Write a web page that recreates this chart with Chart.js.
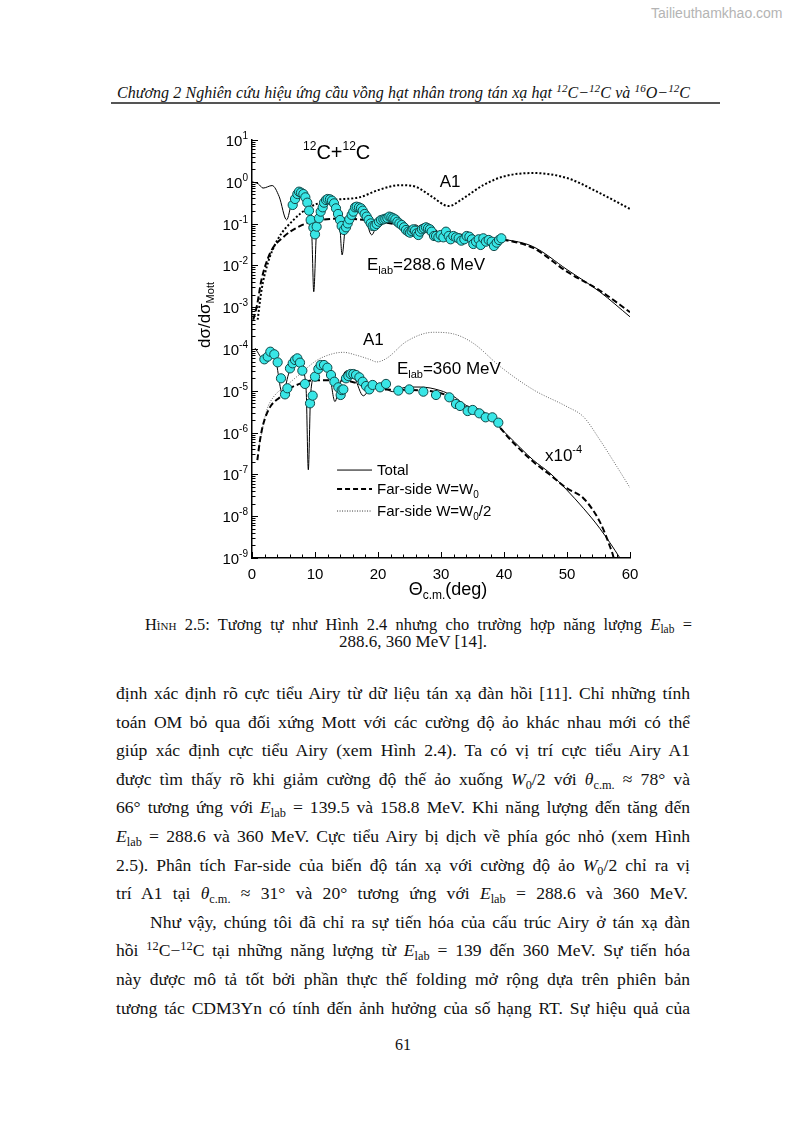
<!DOCTYPE html>
<html>
<head>
<meta charset="utf-8">
<script src="https://cdn.jsdelivr.net/npm/chart.js@4/dist/chart.umd.min.js"></script>
<style>
  body { margin: 0; background: #fff; }
  #page { position: relative; width: 795px; height: 1124px; overflow: hidden; font-family: "Liberation Serif", "Times New Roman", serif; color: #111; }
  #wm { position: absolute; left: 651px; top: 5px; font: 14px "Liberation Sans", Arial, sans-serif; color: #b4b4b4; }
  #head { position: absolute; left: 117px; top: 83px; width: 573px; height: 20px; font-size: 16px; font-style: italic; line-height: 20px; text-align: justify; text-align-last: justify; }
  #rule { position: absolute; left: 111px; top: 102px; width: 609px; height: 1.5px; background: #555; }
  #chartBox { position: absolute; left: 190px; top: 125px; width: 460px; height: 490px; }
  .cap { position: absolute; height: 18px; font-size: 17px; line-height: 18px; }
  .ln { position: absolute; left: 116px; width: 574px; height: 29px; line-height: 29px; font-size: 17.6px; text-align: justify; text-align-last: justify; }
  sub, sup { font-size: 0.7em; line-height: 0; }
  sub { vertical-align: -0.3em; }
  sup { vertical-align: 0.5em; }
  #pnum { position: absolute; left: 383px; width: 40px; top: 1036px; text-align: center; font-size: 16px; }
</style>
</head>
<body>
<div id="page">
  <div id="wm">Tailieuthamkhao.com</div>
  <div id="head">Chương 2 Nghiên cứu hiệu ứng cầu vồng hạt nhân trong tán xạ hạt <sup>12</sup>C−<sup>12</sup>C và <sup>16</sup>O−<sup>12</sup>C</div>
  <div id="rule"></div>

  <div id="chartBox"><canvas id="chart" width="460" height="490"></canvas></div>

  <div class="cap" style="left:145px; top:616px; width:547px; text-align:justify; text-align-last:justify;"><span style="font-variant:small-caps">Hình</span> 2.5: Tương tự như Hình 2.4 nhưng cho trường hợp năng lượng <i>E</i><sub>lab</sub> =</div>
  <div class="cap" style="left:263px; top:633px; width:300px; text-align:center;">288.6, 360 MeV [14].</div>

  <div class="ln" style="top:679px;">định xác định rõ cực tiểu Airy từ dữ liệu tán xạ đàn hồi [11]. Chỉ những tính</div>
  <div class="ln" style="top:707.6px;">toán OM bỏ qua đối xứng Mott với các cường độ ảo khác nhau mới có thể</div>
  <div class="ln" style="top:736.2px;">giúp xác định cực tiểu Airy (xem Hình 2.4). Ta có vị trí cực tiểu Airy A1</div>
  <div class="ln" style="top:764.8px;">được tìm thấy rõ khi giảm cường độ thế ảo xuống <i>W</i><sub>0</sub>/2 với <i>θ</i><sub>c.m.</sub> ≈ 78° và</div>
  <div class="ln" style="top:793.4px;">66° tương ứng với <i>E</i><sub>lab</sub> = 139.5 và 158.8 MeV. Khi năng lượng đến tăng đến</div>
  <div class="ln" style="top:822px;"><i>E</i><sub>lab</sub> = 288.6 và 360 MeV. Cực tiểu Airy bị dịch về phía góc nhỏ (xem Hình</div>
  <div class="ln" style="top:850.6px;">2.5). Phân tích Far-side của biến độ tán xạ với cường độ ảo <i>W</i><sub>0</sub>/2 chỉ ra vị</div>
  <div class="ln" style="top:879.2px; width:572px;">trí A1 tại <i>θ</i><sub>c.m.</sub> ≈ 31° và 20° tương ứng với <i>E</i><sub>lab</sub> = 288.6 và 360 MeV.</div>

  <div class="ln" style="top:907.8px; left:150px; width:540px;">Như vậy, chúng tôi đã chỉ ra sự tiến hóa của cấu trúc Airy ở tán xạ đàn</div>
  <div class="ln" style="top:936.4px;">hồi <sup>12</sup>C−<sup>12</sup>C tại những năng lượng từ <i>E</i><sub>lab</sub> = 139 đến 360 MeV. Sự tiến hóa</div>
  <div class="ln" style="top:965px;">này được mô tả tốt bởi phần thực thế folding mở rộng dựa trên phiên bản</div>
  <div class="ln" style="top:993.6px;">tương tác CDM3Yn có tính đến ảnh hưởng của số hạng RT. Sự hiệu quả của</div>

  <div id="pnum">61</div>
</div>

<script>
// shrink any text line that would wrap
document.querySelectorAll('.ln, .cap, #head').forEach(el => {
  let fs = parseFloat(getComputedStyle(el).fontSize);
  while (el.scrollHeight > el.clientHeight + 1 && fs > 10) {
    fs -= 0.2;
    el.style.fontSize = fs + 'px';
  }
});

// ---- data (angle in deg, dσ/dσMott) ----

// Elab = 288.6 MeV experimental points
const dataHiDeg = [6.46, 6.83, 7.20, 7.46, 7.78, 8.15, 8.47, 8.78, 9.05, 9.31, 9.74, 10.0, 10.26, 10.63, 10.90,
  11.22, 11.43, 11.75, 12.01, 12.38, 12.70, 13.02, 13.33, 13.65, 13.97, 14.23, 14.60, 14.92, 15.19, 15.45,
  15.82, 16.08, 16.35, 16.61, 16.98, 17.30, 17.57, 17.88, 18.20, 18.52, 18.84, 19.15, 19.47, 19.79, 20.16,
  20.48, 20.85, 21.16, 21.48, 21.80, 22.12, 22.43, 22.75, 23.07, 23.39, 23.76, 24.13, 24.44, 24.81, 25.08,
  25.34, 25.61, 25.87, 26.14, 26.40, 26.67, 26.98, 27.30, 27.62, 27.94, 28.25, 28.52, 28.89, 29.21, 29.58,
  29.95, 30.37, 30.79, 31.22, 31.53, 31.96, 32.38, 32.80, 33.23, 33.70, 34.07, 34.50, 34.92, 35.13, 35.56,
  35.98, 36.30, 36.72, 37.14, 37.57, 38.04, 38.41, 38.84, 39.21, 39.58];
const dataHiVal = [0.279, 0.388, 0.51, 0.581, 0.55, 0.51, 0.425, 0.317, 0.204, 0.122, 0.080, 0.0553, 0.0845, 0.134, 0.193,
  0.245, 0.317, 0.367, 0.388, 0.381, 0.354, 0.305, 0.232, 0.170, 0.122, 0.0877, 0.0703, 0.0815, 0.101, 0.126,
  0.161, 0.193, 0.245, 0.254, 0.245, 0.232, 0.204, 0.170, 0.147, 0.122, 0.101, 0.0877, 0.0877, 0.0977, 0.111,
  0.122, 0.126, 0.131, 0.136, 0.147, 0.141, 0.134, 0.126, 0.111, 0.101, 0.0927, 0.0815, 0.0703, 0.0641, 0.0607,
  0.0665, 0.0729, 0.0678, 0.0585, 0.0533, 0.0641, 0.0729, 0.0771, 0.0815, 0.0771, 0.0729, 0.0641, 0.0505, 0.0505, 0.0469,
  0.0533, 0.0469, 0.0641, 0.0505, 0.0421, 0.0505, 0.0469, 0.0445, 0.0391, 0.0421, 0.0505, 0.0486, 0.0421, 0.0325, 0.0370,
  0.0421, 0.0308, 0.0445, 0.0370, 0.0406, 0.0370, 0.0291, 0.0350, 0.0406, 0.0445];

// Elab = 360 MeV experimental points (already x10^-4)
const dataLoDeg = [1.96, 2.49, 2.91, 3.54, 4.07, 4.60, 5.24, 5.61, 6.03, 6.46, 6.83, 7.20, 7.62, 7.99, 8.41,
  9.21, 9.63, 10.0, 10.53, 10.90, 11.43, 11.96, 12.54, 13.07, 13.70, 14.07, 14.23, 14.50, 14.92, 15.29,
  15.66, 16.08, 16.51, 17.04, 17.57, 18.10, 18.62, 19.15, 20.32, 21.27, 23.23, 24.97, 27.20, 29.21, 31.32,
  32.38, 33.02, 34.23, 35.03, 36.08, 37.09, 38.15, 39.10];
const dataLoVal = [5.66e-5, 6.56e-5, 8.63e-5, 7.46e-5, 4.80e-5, 1.99e-5, 8.22e-6, 1.15e-5, 3.44e-5, 4.54e-5, 5.46e-5, 5.98e-5, 4.71e-5, 3.03e-5, 1.46e-5,
  5.01e-6, 7.66e-6, 2.18e-5, 3.33e-5, 4.14e-5, 4.14e-5, 3.57e-5, 2.39e-5, 1.65e-5, 1.21e-5, 7.94e-6, 1.04e-5, 1.08e-5, 1.99e-5, 2.26e-5,
  2.52e-5, 2.52e-5, 2.39e-5, 2.10e-5, 1.65e-5, 1.30e-5, 1.08e-5, 1.38e-5, 1.21e-5, 1.46e-5, 1.01e-5, 1.08e-5, 9.53e-6, 7.94e-6, 6.98e-6,
  4.83e-6, 4.33e-6, 3.28e-6, 3.48e-6, 2.89e-6, 2.32e-6, 2.32e-6, 1.73e-6];

// 288.6 MeV curves
const totHiDeg = [0, 1, 1.75, 3.2, 4.3, 5.5, 6.3, 7.3, 8.2, 9.0, 9.5, 9.8, 10.2, 10.8, 12.1, 13.2, 13.9, 14.3, 14.8, 15.5,
  16.6, 17.8, 19.0, 20.0, 21.4, 22.7, 24.0, 26.0, 27.2, 28.0, 30, 35, 40, 44.6, 50, 55.2, 60];
const totHiVal = [1.0, 0.891, 0.708, 0.813, 0.447, 0.123, 0.316, 0.575, 0.479, 0.2, 0.0501, 2.34e-3, 0.0501, 0.2, 0.407, 0.282, 0.112, 0.0178, 0.0794, 0.178,
  0.263, 0.178, 0.0537, 0.112, 0.162, 0.126, 0.0708, 0.0933, 0.0708, 0.0794, 0.0562, 0.0468, 0.0417, 0.0282, 7.94e-3, 2.34e-3, 5.89e-4];

const farHiDeg = [0.2, 0.8, 1.5, 2.9, 5, 7.6, 10.3, 14.5, 20, 26, 30, 35, 40, 44.6, 50, 55.2, 60];
const farHiVal = [5.01e-4, 1.12e-3, 4.47e-3, 0.02, 0.0479, 0.0871, 0.117, 0.132, 0.112, 0.0794, 0.0646, 0.049, 0.0407, 0.0263, 7.08e-3, 2.51e-3, 7.59e-4];

const halfHiDeg = [0.9, 1.5, 2.5, 4, 6.6, 9.2, 12.9, 17.1, 20, 23.5, 26, 28.5, 31.2, 33.5, 36.7, 40, 44.6, 50, 55.2, 60];
const halfHiVal = [5.01e-4, 2.51e-3, 0.0112, 0.0398, 0.123, 0.251, 0.363, 0.427, 0.631, 0.832, 0.759, 0.447, 0.263, 0.398, 0.832, 1.35, 1.62, 1.23, 0.537, 0.224];

// 360 MeV curves (x10^-4)
const totLoDeg = [0.48, 1.9, 2.9, 3.6, 4.87, 5.8, 7.1, 8.0, 8.6, 8.94, 9.3, 10.0, 11.06, 12.3, 13.17, 13.9, 15.03, 16.3, 17.67, 18.7,
  19.79, 21, 22.33, 24.55, 26.7, 29.84, 31.96, 34, 36.7, 39.4, 40.7, 44.66, 47.3, 49.95, 52.6, 55.2, 58.4, 59];
const totLoVal = [1.05e-4, 5.62e-5, 8.51e-5, 7.08e-5, 8.13e-6, 2.51e-5, 6.61e-5, 3.16e-5, 1.0e-5, 1.29e-7, 7.94e-6, 2.4e-5, 4.57e-5, 2.51e-5, 5.5e-6, 1.41e-5, 3.02e-5, 2.0e-5, 7.59e-6, 1.12e-5,
  1.38e-5, 1.17e-5, 9.55e-6, 1.23e-5, 1.23e-5, 1.02e-5, 7.41e-6, 4.47e-6, 3.24e-6, 1.29e-6, 8.3e-7, 2.19e-7, 1.07e-7, 4.27e-8, 1.55e-8, 5.13e-9, 1.0e-9, 7.08e-10];

const farLoDeg = [0.85, 1.27, 1.8, 2.86, 4.44, 5.5, 7.62, 9.74, 12.9, 15, 18.2, 21.4, 24.5, 28.8, 31.4, 34.1, 36.7, 39.4, 40.7, 44.66,
  47.3, 49.95, 52.6, 55.2, 56.8, 57.4, 57.6];
const farLoVal = [2.19e-7, 6.61e-7, 1.62e-6, 4.07e-6, 7.08e-6, 1.02e-5, 1.48e-5, 1.78e-5, 1.78e-5, 1.74e-5, 1.29e-5, 1.07e-5, 1.05e-5, 9.55e-6, 7.24e-6, 3.8e-6, 2.88e-6, 1.29e-6, 7.6e-7, 2.0e-7,
  9.77e-8, 4.68e-8, 2.69e-8, 7.41e-9, 1.91e-9, 1.0e-9, 6.31e-10];

const halfLoDeg = [1.0, 2.33, 3.4, 5.5, 7.6, 10.3, 12.9, 14.5, 16.6, 18.7, 19.8, 21.4, 24.5, 28.8, 32, 35.1, 39.4, 44.7, 50, 52.6, 55.2, 57.9, 60];
const halfLoVal = [3.98e-7, 3.39e-6, 7.08e-6, 1.35e-5, 2.51e-5, 5.37e-5, 7.76e-5, 8.32e-5, 7.08e-5, 5.62e-5, 4.9e-5, 6.03e-5, 1.51e-4, 2.51e-4, 2.29e-4, 1.38e-4, 3.8e-5, 1.05e-5, 4.17e-6, 2.4e-6, 6.76e-7, 1.55e-7, 4.79e-8];

// axes
const xTickLabels = [0, 10, 20, 30, 40, 50, 60];
const yTickExps = [-9, -8, -7, -6, -5, -4, -3, -2, -1, 0, 1];

const FONT = '"Liberation Sans", Arial, sans-serif';

function pts(xs, ys) {
  return xs.map((v, i) => ({ x: v, y: ys[i] }));
}

function lineSet(xs, ys, width, dash, color) {
  return {
    type: 'line',
    data: pts(xs, ys),
    borderColor: color || '#000',
    borderWidth: width,
    borderDash: dash,
    pointRadius: 0,
    fill: false,
    cubicInterpolationMode: 'monotone',
    order: 2
  };
}

function dotSet(xs, ys) {
  return {
    type: 'scatter',
    data: pts(xs, ys),
    backgroundColor: '#38e6e6',
    borderColor: '#114848',
    borderWidth: 1,
    pointRadius: 4.6,
    order: 0
  };
}

// draws pieces of text with different sizes / vertical offsets (for sub/superscripts)
function drawParts(ctx, x, y, parts, align) {
  let total = 0;
  const widths = parts.map(p => {
    ctx.font = p[1] + 'px ' + FONT;
    const w = ctx.measureText(p[0]).width;
    total += w;
    return w;
  });
  if (align === 'right') x -= total;
  if (align === 'center') x -= total / 2;
  parts.forEach((p, i) => {
    ctx.font = p[1] + 'px ' + FONT;
    ctx.fillText(p[0], x, y + (p[2] || 0));
    x += widths[i];
  });
}

const decor = {
  id: 'decor',
  afterDraw(chart) {
    const { ctx, chartArea: area, scales: { x, y } } = chart;
    ctx.save();
    ctx.strokeStyle = '#000';
    ctx.fillStyle = '#000';
    ctx.lineWidth = 1;
    ctx.textBaseline = 'alphabetic';

    // x ticks, inside
    for (let v = 0; v <= 60; v += 2) {
      const px = Math.round(x.getPixelForValue(v)) + 0.5;
      const len = v % 10 === 0 ? 6 : 3.5;
      ctx.beginPath();
      ctx.moveTo(px, area.bottom);
      ctx.lineTo(px, area.bottom - len);
      ctx.stroke();
    }
    xTickLabels.forEach(v => {
      drawParts(ctx, x.getPixelForValue(v), area.bottom + 20.5, [[String(v), 15]], 'center');
    });

    // y ticks, inside
    yTickExps.forEach(e => {
      const py = Math.round(y.getPixelForValue(Math.pow(10, e))) + 0.5;
      ctx.beginPath();
      ctx.moveTo(area.left, py);
      ctx.lineTo(area.left + 6, py);
      ctx.stroke();
      if (e < 1) {
        for (let m = 2; m <= 9; m++) {
          const pm = Math.round(y.getPixelForValue(m * Math.pow(10, e))) + 0.5;
          ctx.beginPath();
          ctx.moveTo(area.left, pm);
          ctx.lineTo(area.left + 3.5, pm);
          ctx.stroke();
        }
      }
      drawParts(ctx, area.left - 4, py + 5.2, [['10', 15], [String(e), 10, -7]], 'right');
    });

    // axis titles
    ctx.save();
    ctx.translate(14, 190);
    ctx.rotate(-Math.PI / 2);
    drawParts(ctx, 0, 6, [['dσ/dσ', 17], ['Mott', 11, 4]], 'center');
    ctx.restore();
    drawParts(ctx, 258, 470, [['Θ', 18], ['c.m.', 12, 4], ['(deg)', 18]], 'center');

    // annotations in data coordinates
    const at = (d, v) => [x.getPixelForValue(d), y.getPixelForValue(v)];
    let p = at(8.1, 3.51);
    drawParts(ctx, p[0], p[1], [['12', 12, -9], ['C+', 20], ['12', 12, -9], ['C', 20]]);
    p = at(29.8, 0.751);
    drawParts(ctx, p[0], p[1], [['A1', 17]]);
    p = at(18.25, 7.76e-3);
    drawParts(ctx, p[0], p[1], [['E', 17], ['lab', 11, 4], ['=288.6 MeV', 17]]);
    p = at(17.6, 1.25e-4);
    drawParts(ctx, p[0], p[1], [['A1', 17]]);
    p = at(23.0, 2.52e-5);
    drawParts(ctx, p[0], p[1], [['E', 17], ['lab', 11, 4], ['=360 MeV', 17]]);
    p = at(46.5, 2.09e-7);
    drawParts(ctx, p[0], p[1], [['x10', 17], ['-4', 11, -8]]);

    // legend
    const rows = [
      { v: 1.27e-7, w: 1, dash: [], color: '#000', text: [['Total', 15]] },
      { v: 4.48e-8, w: 2, dash: [5, 3], color: '#000', text: [['Far-side W=W', 15], ['0', 10, 4]] },
      { v: 1.33e-8, w: 1, dash: [1, 1.5], color: '#333', text: [['Far-side W=W', 15], ['0', 10, 4], ['/2', 15]] }
    ];
    rows.forEach(r => {
      const a = at(13.5, r.v), b = at(19.05, r.v);
      ctx.save();
      ctx.strokeStyle = r.color;
      ctx.lineWidth = r.w;
      ctx.setLineDash(r.dash);
      ctx.beginPath();
      ctx.moveTo(a[0], a[1]);
      ctx.lineTo(b[0], b[1]);
      ctx.stroke();
      ctx.restore();
      drawParts(ctx, b[0] + 5, a[1] + 5.3, r.text);
    });
    ctx.restore();
  }
};

new Chart(document.getElementById('chart').getContext('2d'), {
  type: 'scatter',
  data: {
    datasets: [
      dotSet(dataHiDeg, dataHiVal),
      dotSet(dataLoDeg, dataLoVal),
      lineSet(totHiDeg, totHiVal, 1, []),
      lineSet(farHiDeg, farHiVal, 2, [6, 3]),
      lineSet(halfHiDeg, halfHiVal, 2, [2, 2]),
      lineSet(totLoDeg, totLoVal, 1, []),
      lineSet(farLoDeg, farLoVal, 2, [6, 3]),
      lineSet(halfLoDeg, halfLoVal, 1, [1, 1.5], '#666')
    ]
  },
  options: {
    responsive: false,
    animation: false,
    layout: { padding: { top: 15, right: 20, left: 0, bottom: 0 } },
    plugins: { legend: { display: false }, tooltip: { enabled: false } },
    scales: {
      x: {
        type: 'linear', min: 0, max: 60,
        ticks: { display: false },
        grid: { display: false },
        border: { display: true, color: '#000', width: 1.5 },
        afterFit: s => { s.height = 57; }
      },
      y: {
        type: 'logarithmic', min: 1e-9, max: 10,
        ticks: { display: false },
        grid: { display: false },
        border: { display: true, color: '#000', width: 1.5 },
        afterFit: s => { s.width = 62; }
      }
    }
  },
  plugins: [decor]
});
</script>
</body>
</html>
